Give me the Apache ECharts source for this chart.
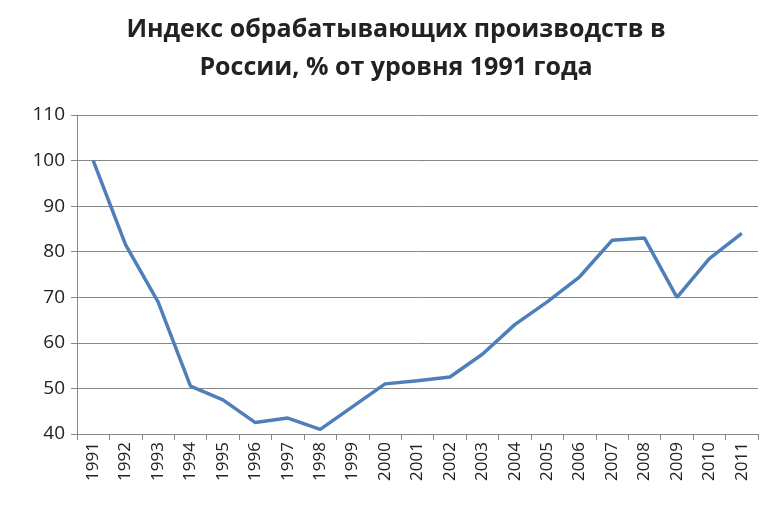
<!DOCTYPE html>
<html><head><meta charset="utf-8">
<script src="https://cdn.jsdelivr.net/npm/echarts@6/dist/echarts.min.js"></script>
<style>html,body{margin:0;padding:0;background:#fff}#c{width:770px;height:514px}</style>
</head><body><div id="c"></div>
<script>
const years = ['1991','1992','1993','1994','1995','1996','1997','1998','1999','2000','2001','2002','2003','2004','2005','2006','2007','2008','2009','2010','2011'];
const values = [100,81.5,69,50.5,47.5,42.5,43.5,41,46,51,51.7,52.5,57.5,64,69,74.5,82.5,83,70,78.5,84];
const chart = echarts.init(document.getElementById('c'));
chart.setOption({
  animation:false,
  title:{text:'Индекс обрабатывающих производств в\nРоссии, % от уровня 1991 года',left:391,textAlign:'center',top:6,
    textStyle:{fontFamily:'Open Sans',fontWeight:'bold',fontSize:25,lineHeight:38,color:'#222'}},
  grid:{left:77,right:12,top:115,bottom:80},
  xAxis:{type:'category',data:years,boundaryGap:true,
    axisLine:{lineStyle:{color:'#868686'}},axisTick:{show:true,lineStyle:{color:'#868686'},length:6},
    axisLabel:{rotate:90,color:'#222',fontSize:17,fontFamily:'Open Sans',margin:8}},
  yAxis:{type:'value',min:40,max:110,interval:10,
    axisLine:{show:true,lineStyle:{color:'#868686'}},axisTick:{show:true,lineStyle:{color:'#868686'},length:6},
    splitLine:{lineStyle:{color:'#868686'}},
    axisLabel:{color:'#222',fontSize:19,fontFamily:'Open Sans',margin:12}},
  series:[{type:'line',data:values,symbol:'none',lineStyle:{color:'#4f7fb8',width:3.5}}]
});
</script></body></html>
